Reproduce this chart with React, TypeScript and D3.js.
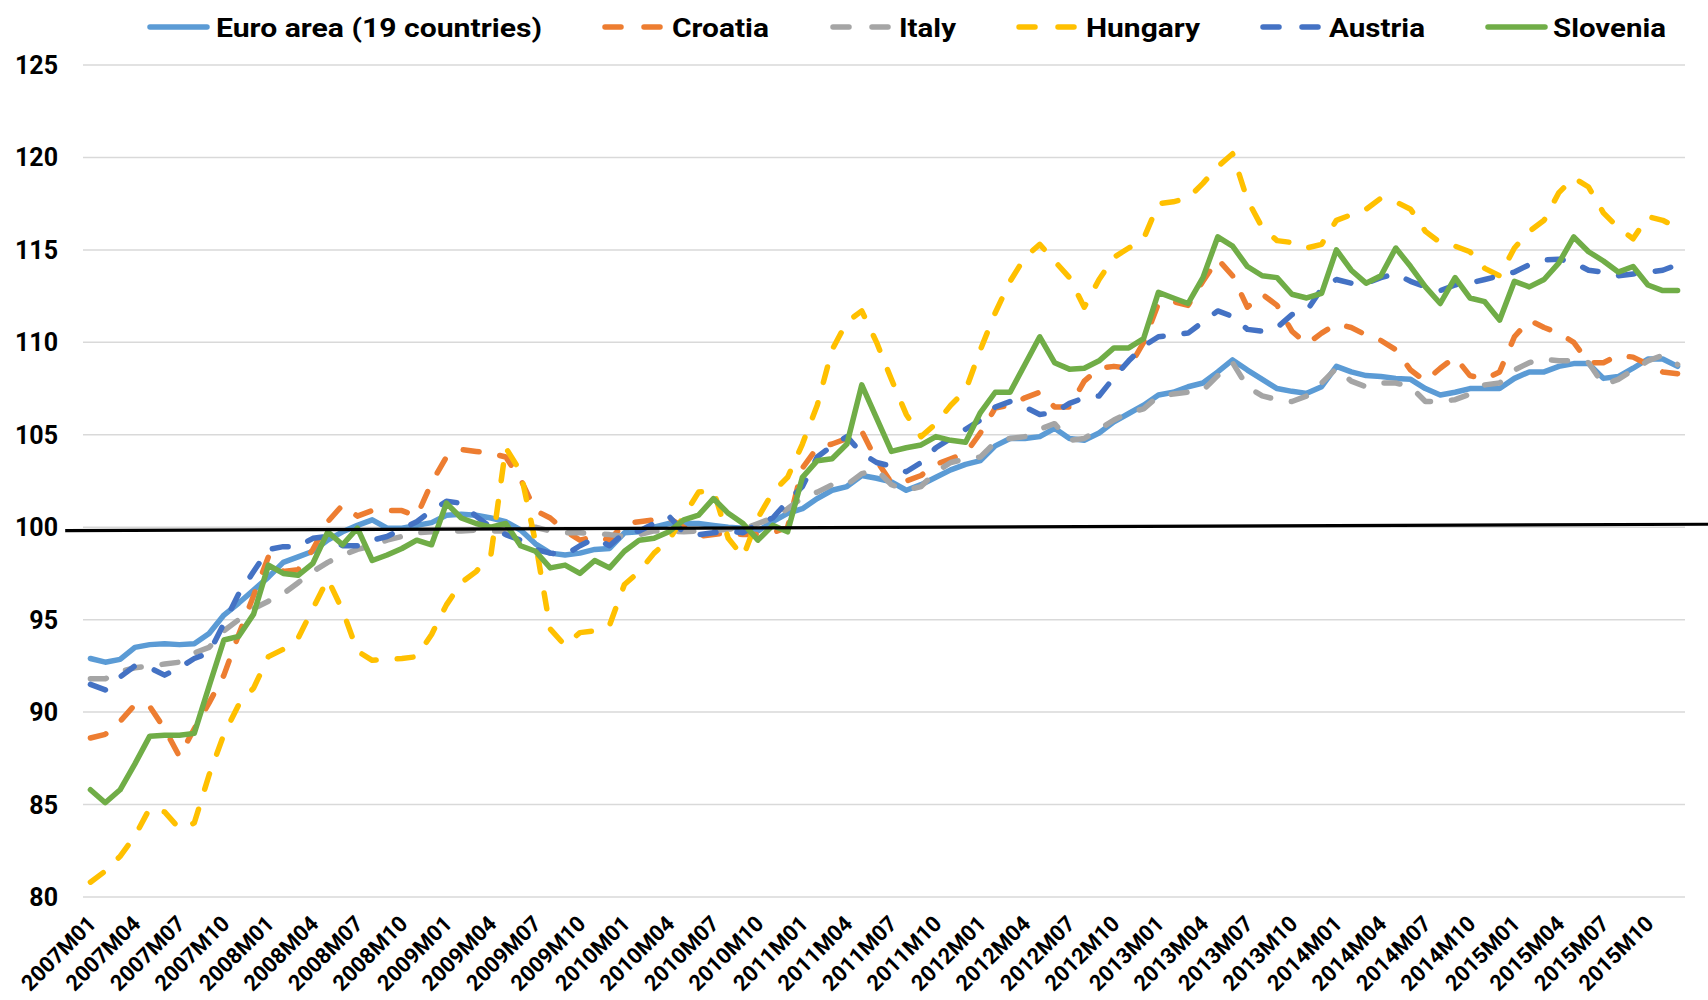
import React, { useEffect, useRef } from "react";
import * as d3 from "d3";

const years = [2007, 2008, 2009, 2010, 2011, 2012, 2013, 2014, 2015];
const months = years.flatMap((y) =>
  d3.range(1, 13).map((m) => `${y}M${String(m).padStart(2, "0")}`)
);

const euroArea = [
  92.9, 92.7, 92.85, 93.5, 93.65, 93.7, 93.65, 93.7, 94.25, 95.25, 95.9, 96.6, 97.3, 98.1, 98.4, 98.7, 99.3, 99.75, 100.1, 100.4, 99.95, 99.95, 100.1, 100.25, 100.65, 100.7, 100.65, 100.5,
  100.3, 99.85, 99.1, 98.6, 98.5, 98.6, 98.8, 98.85, 99.7, 99.75, 100.0, 100.2, 100.2, 100.2, 100.1, 100.0, 99.95, 99.8, 100.3, 100.75, 101.0, 101.55, 102.0, 102.2, 102.8, 102.65, 102.45,
  102.0, 102.3, 102.7, 103.1, 103.4, 103.6, 104.4, 104.8, 104.8, 104.9, 105.35, 104.8, 104.7, 105.1, 105.7, 106.15, 106.6, 107.15, 107.3, 107.6, 107.8, 108.4, 109.05, 108.5, 108.0, 107.5, 107.35,
  107.24, 107.6, 108.7, 108.4, 108.2, 108.15, 108.05, 108.0, 107.5, 107.15, 107.3, 107.5, 107.5, 107.5, 108.05, 108.4, 108.4, 108.7, 108.85, 108.85, 108.05, 108.15, 108.6, 109.1, 109.1, 108.7,
];

const croatia = [
  88.6, 88.8, 89.5, 90.4, 90.3, 89.1, 87.6, 89.1, 90.5, 92.0, 94.2, 96.3, 98.4, 97.6, 97.7, 98.8, 100.3, 101.2, 100.6, 100.9, 100.9, 100.9, 100.6, 102.4, 103.8, 104.2, 104.1, 104.0,
  103.8, 102.6, 100.9, 100.5, 99.8, 99.3, 99.5, 99.3, 100.2, 100.3, 100.4, 100.5, 100.0, 99.5, 99.6, 99.7, 99.6, 99.6, 99.7, 100.0, 103.2, 104.3, 104.5, 104.8, 105.2, 103.6, 102.4,
  102.5, 102.8, 103.4, 103.7, 104.0, 105.1, 106.45, 106.6, 107.0, 107.3, 106.5, 106.5, 107.9, 108.6, 108.7, 108.6, 110.0, 112.1, 112.2, 112.0, 113.3, 114.5, 113.6, 111.9, 112.6, 112.0, 110.6,
  109.9, 110.5, 111.0, 110.8, 110.4, 110.1, 109.6, 108.5, 107.9, 108.6, 109.2, 108.2, 108.0, 108.4, 110.3, 111.2, 110.8, 110.5, 110.0, 108.9, 108.9, 109.3, 109.2, 108.8, 108.4, 108.3,
];

const italy = [
  91.8, 91.8, 92.2, 92.4, 92.5, 92.6, 92.7, 93.2, 93.5, 94.4, 95.0, 95.6, 96.0, 96.4, 97.0, 97.6, 98.1, 98.5, 98.8, 99.0, 99.3, 99.5, 99.7, 99.75, 99.8, 99.8, 99.85, 99.8,
  99.8, 100.0, 100.0, 99.8, 99.7, 99.7, 99.65, 99.6, 99.5, 99.6, 99.8, 99.8, 99.75, 99.8, 99.8, 99.9, 99.9, 100.2, 100.5, 101.0, 101.6, 101.9, 102.3, 102.3, 102.9, 103.1, 102.3,
  102.0, 102.2, 103.0, 103.5, 103.7, 103.8, 104.6, 104.8, 104.9, 105.3, 105.6, 104.7, 104.8, 105.3, 105.8, 106.2, 106.4, 107.1, 107.2, 107.3, 107.4, 108.2, 108.9, 107.6, 107.1, 106.9, 106.8,
  107.1, 107.8, 108.6, 107.9, 107.6, 107.8, 107.8, 107.6, 106.8, 106.8, 106.9, 107.2, 107.7, 107.8, 108.5, 108.9, 109.1, 109.0, 109.0, 108.9, 107.7, 108.0, 108.5, 109.0, 109.3, 108.8,
];

const hungary = [
  80.8, 81.4, 82.2, 83.3, 84.8, 84.6, 83.7, 84.0, 86.6, 88.8, 90.4, 91.3, 93.0, 93.4, 94.0, 95.6, 97.2, 95.5, 93.3, 92.8, 92.85, 92.9, 93.0, 94.2, 95.8, 97.0, 97.6, 98.5,
  104.3, 103.0, 99.2, 94.5, 93.6, 94.3, 94.4, 94.7, 96.9, 97.6, 98.6, 99.3, 100.6, 101.9, 102.0, 99.4, 98.4, 100.5, 101.9, 102.7, 104.5, 106.6, 109.6, 111.1, 111.7, 110.0, 108.0,
  106.1, 104.9, 105.6, 106.6, 107.4, 109.6, 111.6, 113.3, 114.6, 115.3, 114.4, 113.5, 111.9, 113.4, 114.6, 115.1, 115.6, 117.5, 117.6, 117.8, 118.6, 119.5, 120.2, 117.7, 116.2, 115.5, 115.4,
  115.1, 115.3, 116.6, 116.9, 117.2, 117.8, 117.6, 117.2, 116.0, 115.4, 115.2, 114.9, 114.0, 113.6, 115.1, 116.0, 116.6, 118.1, 118.9, 118.4, 117.0, 116.2, 115.6, 116.8, 116.6, 116.2,
];

const austria = [
  91.5, 91.2, 91.9, 92.5, 92.4, 92.0, 92.4, 92.9, 93.2, 94.8, 96.4, 97.6, 98.8, 98.95, 98.95, 99.4, 99.5, 99.0, 99.0, 99.3, 99.5, 99.9, 100.3, 100.9, 101.4, 101.3, 100.6, 100.0,
  99.6, 99.3, 98.8, 98.6, 98.5, 99.0, 99.4, 99.0, 99.7, 99.8, 100.2, 100.6, 99.7, 99.6, 99.7, 99.8, 99.7, 100.2, 100.5, 101.4, 102.2, 103.8, 104.4, 104.9, 104.0, 103.5, 103.3,
  103.0, 103.5, 104.3, 104.8, 105.3, 105.8, 106.5, 106.8, 106.5, 106.1, 106.2, 106.7, 107.0, 107.1, 108.1, 109.0, 109.8, 110.3, 110.4, 110.5, 111.1, 111.7, 111.4, 110.7, 110.6, 110.8, 111.5,
  111.7, 112.9, 113.4, 113.2, 113.2, 113.5, 113.7, 113.3, 113.0, 112.8, 113.1, 113.2, 113.4, 113.6, 113.8, 114.2, 114.45, 114.5, 114.3, 113.9, 113.8, 113.6, 113.7, 113.8, 113.9, 114.2,
];

const slovenia = [
  85.8, 85.1, 85.8, 87.2, 88.7, 88.75, 88.75, 88.85, 91.4, 93.9, 94.1, 95.3, 97.95, 97.5, 97.4, 98.05, 99.75, 99.05, 99.95, 98.2, 98.5, 98.85, 99.3, 99.05, 101.3, 100.5, 100.2, 100.0,
  100.2, 99.0, 98.7, 97.8, 97.95, 97.5, 98.2, 97.8, 98.7, 99.3, 99.4, 99.75, 100.4, 100.65, 101.55, 100.75, 100.2, 99.3, 100.1, 99.75, 102.7, 103.6, 103.7, 104.5, 107.7, 105.9, 104.1,
  104.3, 104.45, 104.9, 104.7, 104.6, 106.2, 107.3, 107.3, 108.8, 110.3, 108.9, 108.55, 108.6, 109.0, 109.7, 109.7, 110.2, 112.7, 112.4, 112.1, 113.5, 115.7, 115.2, 114.1, 113.6, 113.5, 112.6,
  112.4, 112.65, 115.0, 113.9, 113.2, 113.6, 115.1, 114.1, 113.0, 112.1, 113.5, 112.4, 112.2, 111.2, 113.3, 113.0, 113.4, 114.3, 115.7, 114.9, 114.4, 113.8, 114.1, 113.1, 112.8, 112.8,
];

const yTicks = [80, 85, 90, 95, 100, 105, 110, 115, 120, 125];
// hand-drawn reference line, runs past the plot on both sides (month index, value)
const baseLine = [
  { t: -1.7, v: 99.82 },
  { t: 109.1, v: 100.16 },
];

const series = [
  { name: "Euro area (19 countries)", values: euroArea, color: "#5B9BD5", dashed: false },
  { name: "Croatia", values: croatia, color: "#ED7D31", dashed: true },
  { name: "Italy", values: italy, color: "#A5A5A5", dashed: true },
  { name: "Hungary", values: hungary, color: "#FFC000", dashed: true },
  { name: "Austria", values: austria, color: "#4472C4", dashed: true },
  { name: "Slovenia", values: slovenia, color: "#70AD47", dashed: false },
];

// legend layout: sample start x, text start x, text width
const legendPos = [
  { x: 147, tx: 216, w: 326 },
  { x: 602, tx: 672, w: 97 },
  { x: 830, tx: 899, w: 57 },
  { x: 1016, tx: 1086, w: 114 },
  { x: 1260, tx: 1329, w: 96 },
  { x: 1485, tx: 1553, w: 113 },
];

const FONT = "Roboto, 'Liberation Sans', Arial, sans-serif";

const App = () => {
  const ref = useRef<SVGSVGElement>(null);

  useEffect(() => {
    const width = 1708,
      height = 1000;
    const left = 83,
      right = 1685,
      top = 65,
      bottom = 897;

    const svg = d3.select(ref.current);
    svg.selectAll("*").remove();

    const x = d3.scalePoint().domain(months).range([left, right]).padding(0.5);
    const xi = d3
      .scaleLinear()
      .domain([0, months.length - 1])
      .range([x(months[0]) as number, x(months[months.length - 1]) as number]);
    const y = d3.scaleLinear().domain([80, 125]).range([bottom, top]);

    svg.append("rect").attr("width", width).attr("height", height).attr("fill", "#fff");

    // gridlines
    svg
      .append("g")
      .selectAll("line")
      .data(yTicks)
      .enter()
      .append("line")
      .attr("x1", left)
      .attr("x2", right)
      .attr("y1", (d) => y(d))
      .attr("y2", (d) => y(d))
      .attr("stroke", "#D9D9D9")
      .attr("stroke-width", 1.5);

    // y labels
    svg
      .append("g")
      .selectAll("text")
      .data(yTicks)
      .enter()
      .append("text")
      .attr("x", 58)
      .attr("y", (d) => y(d))
      .attr("dy", "0.36em")
      .attr("text-anchor", "end")
      .style("font-family", FONT)
      .style("font-weight", "bold")
      .style("font-size", "25px")
      .attr("fill", "#000")
      .text((d) => d);

    // x labels, every third month
    svg
      .append("g")
      .selectAll("text")
      .data(months.filter((d, i) => i % 3 === 0))
      .enter()
      .append("text")
      .attr("transform", (d) => "translate(" + ((x(d) as number) + 7) + "," + 925 + ") rotate(-45)")
      .attr("text-anchor", "end")
      .style("font-family", FONT)
      .style("font-weight", "bold")
      .style("font-size", "22px")
      .attr("fill", "#000")
      .text((d) => d);

    const line = d3
      .line<number>()
      .x((d, i) => xi(i))
      .y((d) => y(d));

    series.forEach((s) => {
      svg
        .append("path")
        .attr("d", line(s.values))
        .attr("fill", "none")
        .attr("stroke", s.color)
        .attr("stroke-width", 5.5)
        .attr("stroke-linejoin", "round")
        .attr("stroke-linecap", "round")
        .attr("stroke-dasharray", s.dashed ? "16 21" : null);
    });

    // black reference line on top
    svg
      .append("path")
      .attr(
        "d",
        d3
          .line<{ t: number; v: number }>()
          .x((d) => xi(d.t))
          .y((d) => y(d.v))(baseLine)
      )
      .attr("stroke", "#000")
      .attr("stroke-width", 3.2)
      .attr("fill", "none");

    // legend
    const lg = svg.append("g");
    series.forEach((s, i) => {
      const p = legendPos[i];
      lg.append("line")
        .attr("x1", p.x + 3)
        .attr("x2", p.x + 60)
        .attr("y1", 27)
        .attr("y2", 27)
        .attr("stroke", s.color)
        .attr("stroke-width", 5.5)
        .attr("stroke-linecap", "round")
        .attr("stroke-dasharray", s.dashed ? "16 23" : null);
      lg.append("text")
        .attr("x", p.tx)
        .attr("y", 37)
        .attr("textLength", p.w)
        .attr("lengthAdjust", "spacingAndGlyphs")
        .style("font-family", FONT)
        .style("font-weight", "bold")
        .style("font-size", "26px")
        .attr("fill", "#000")
        .text(s.name);
    });
  }, []);

  return (
    <div style={{ position: "absolute", left: 0, top: 0 }}>
      <svg ref={ref} width={1708} height={1000} style={{ display: "block" }}></svg>
    </div>
  );
};

export default App;
